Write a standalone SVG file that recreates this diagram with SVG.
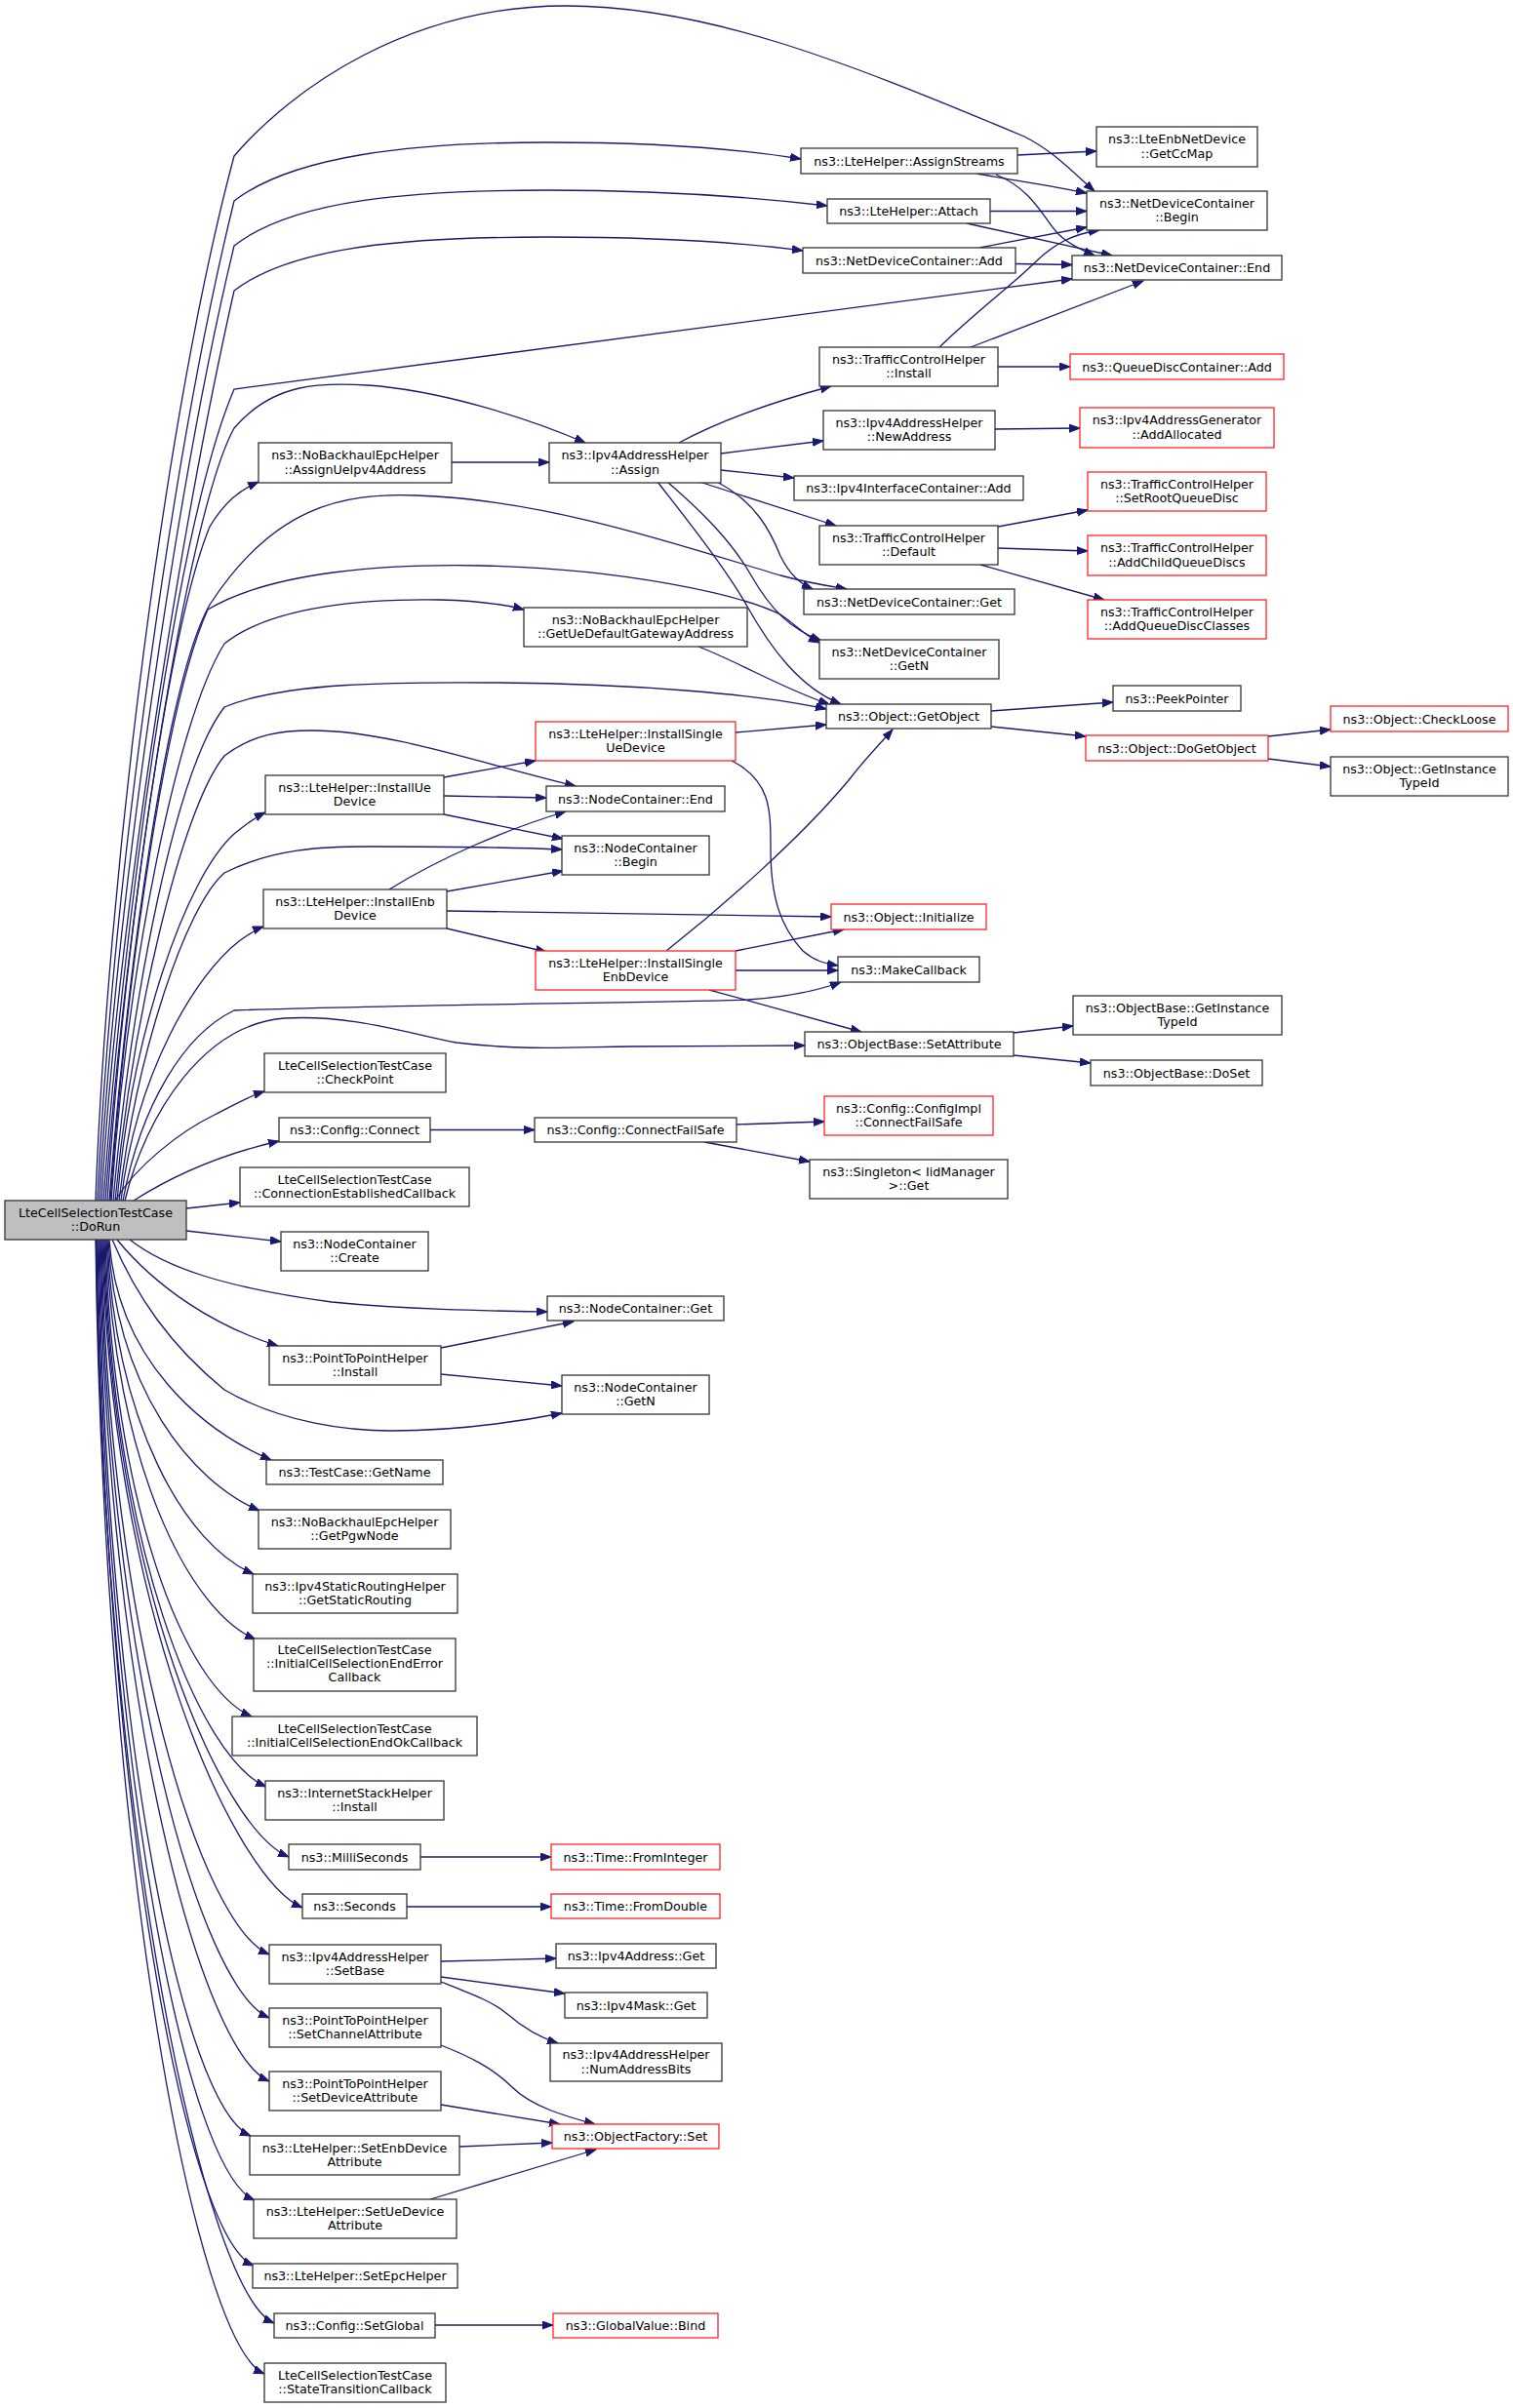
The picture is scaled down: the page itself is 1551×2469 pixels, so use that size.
<svg xmlns="http://www.w3.org/2000/svg" width="1551" height="2469" viewBox="0 0 1551 2469">
<defs>
<style>
.n rect{fill:#fff;stroke:#333;stroke-width:1.3}
.r rect{fill:#fff;stroke:#f22;stroke-width:1.3}
.g rect{fill:#bfbfbf;stroke:#333;stroke-width:1.3}
text{font-family:"DejaVu Sans",Verdana,sans-serif;font-size:12.7px;fill:#000;text-anchor:middle}
#edges path{fill:none;stroke:#191970;stroke-width:1.3;marker-end:url(#a)}
</style>
<marker id="a" markerWidth="12" markerHeight="9" refX="11" refY="4.25" orient="auto" markerUnits="userSpaceOnUse">
<path d="M0,0.25 L11,4.25 L0,8.25 z" fill="#191970" stroke="#191970" stroke-width="1"/>
</marker>
</defs>
<rect width="1551" height="2469" fill="#fff"/>
<g id="edges">
<path d="M98,1231 C110,900 170,420 240,160 C300,90 420,6 580,6 C720,6 860,60 1050,140 C1080,155 1100,177 1122,196"/>
<path d="M100,1231 C115,900 180,450 240,206 C300,160 420,146 561,146 C680,146 760,153 821,163"/>
<path d="M102,1231 C118,920 185,480 240,252 C300,205 420,195 561,195 C680,195 780,203 848,211"/>
<path d="M104,1231 C120,940 190,520 240,298 C300,252 420,243 561,243 C680,243 770,250 823,257"/>
<path d="M106,1231 C125,960 180,540 240,399 L1099,286"/>
<path d="M108,1231 C128,950 190,530 240,439 C280,392 330,392 377,395 C450,400 540,428 600,454"/>
<path d="M110,1231 C125,1000 170,650 215,540 C230,515 245,503 265,494"/>
<path d="M112,1231 C130,1000 170,700 215,620 C280,520 350,505 427,508 C560,512 700,560 800,590 C830,598 850,601 868,604"/>
<path d="M113,1231 C130,1000 170,720 213,625 C280,585 400,578 495,580 C640,583 760,610 800,630 C815,640 826,652 840,659"/>
<path d="M114,1231 C130,1000 180,740 230,660 C280,620 380,614 450,615 C490,616 515,619 537,625"/>
<path d="M116,1231 C135,1020 180,790 230,725 C290,700 400,699 512,700 C650,701 780,712 847,727"/>
<path d="M118,1231 C135,1050 185,830 230,775 C260,752 290,749 320,749 C400,749 500,785 590,806"/>
<path d="M120,1231 C135,1060 190,900 240,855 C252,845 262,838 272,833"/>
<path d="M122,1231 C140,1080 190,930 230,895 C280,870 330,868 378,868 C460,868 530,869 576,871"/>
<path d="M124,1231 C140,1100 200,1000 245,965 C255,958 262,953 270,950"/>
<path d="M126,1231 C145,1130 190,1060 240,1036 C400,1030 700,1028 767,1025 C810,1022 840,1015 862,1007"/>
<path d="M128,1231 C150,1140 210,1050 292,1044 C360,1040 420,1060 468,1069 C540,1078 600,1073 646,1073 L825,1072"/>
<path d="M118,1231 C140,1195 185,1160 220,1143 C240,1133 255,1124 271,1119"/>
<path d="M137,1231 C170,1210 220,1185 286,1170"/>
<path d="M191,1239 L246,1233"/>
<path d="M191,1262 L288,1273"/>
<path d="M133,1271 C170,1300 230,1320 340,1335 C420,1343 500,1344 561,1345"/>
<path d="M120,1271 C160,1320 220,1360 285,1380"/>
<path d="M115,1271 C140,1330 175,1380 230,1425 C290,1460 360,1467 401,1467 C470,1467 530,1458 576,1449"/>
<path d="M112,1271 C120,1395 208,1467 278,1497"/>
<path d="M111,1271 C119,1424 196,1519 266,1549"/>
<path d="M110,1271 C118,1460 190,1584 260,1614"/>
<path d="M109,1271 C117,1496 192,1651 262,1681"/>
<path d="M108,1271 C116,1540 188,1730 258,1760"/>
<path d="M107,1271 C115,1580 203,1802 273,1832"/>
<path d="M106,1271 C114,1619 226,1874 296,1904"/>
<path d="M105,1271 C113,1648 240,1926 310,1956"/>
<path d="M104,1271 C112,1674 206,1974 276,2004"/>
<path d="M103,1271 C111,1710 206,2039 276,2069"/>
<path d="M102,1271 C110,1746 206,2104 276,2134"/>
<path d="M101,1271 C109,1776 187,2160 257,2190"/>
<path d="M100,1271 C108,1813 191,2226 261,2256"/>
<path d="M99,1271 C107,1850 190,2293 260,2323"/>
<path d="M98.5,1271 C106,1882 211,2352 281,2382"/>
<path d="M98,1271 C106,1911 201,2404 271,2434"/>
<path d="M1043,159 L1124,155"/>
<path d="M1001,178 C1040,185 1080,191 1114,198"/>
<path d="M1021,179 C1060,195 1070,225 1085,240 C1095,250 1110,257 1122,262"/>
<path d="M1015,216.5 L1114,216.5"/>
<path d="M991,229 L1140,262"/>
<path d="M1004,254 L1114,233"/>
<path d="M1041,270.5 L1099,271.5"/>
<path d="M963,356 C1000,320 1040,290 1060,270 C1080,250 1100,240 1127,236"/>
<path d="M995,356 L1172,288"/>
<path d="M1023,376 L1097,376"/>
<path d="M696,454 C740,430 800,410 852,396"/>
<path d="M739,465 L844,452"/>
<path d="M739,482 L814,490"/>
<path d="M717,494 L857,539"/>
<path d="M735,494 C775,515 790,545 800,570 C810,590 820,598 833,604"/>
<path d="M684,494 C720,525 750,555 770,590 C790,625 810,645 842,657"/>
<path d="M674,494 C710,540 745,585 765,620 C790,665 820,705 862,722"/>
<path d="M463,474 L563,474"/>
<path d="M1020,440 L1107,439"/>
<path d="M1023,540 L1115,523"/>
<path d="M1023,562 L1115,565"/>
<path d="M1005,579 L1132,615"/>
<path d="M716,663 C760,680 800,705 850,722"/>
<path d="M1016,729 L1141,720"/>
<path d="M1016,745 L1113,755"/>
<path d="M1300,755 L1364,748"/>
<path d="M1300,778 L1364,786"/>
<path d="M754,751 L847,743"/>
<path d="M750,780 C790,800 790,830 790,870 C790,920 800,950 823,975 C835,985 845,988 859,990"/>
<path d="M455,797 L549,780"/>
<path d="M455,816 L560,818"/>
<path d="M455,835 L577,860"/>
<path d="M399,912 C450,880 520,850 580,832"/>
<path d="M458,914 L577,893"/>
<path d="M458,934 C600,936 750,938 852,940"/>
<path d="M458,952 L560,976"/>
<path d="M683,975 C740,930 820,860 870,800 C885,780 900,765 915,748"/>
<path d="M754,975 L865,953"/>
<path d="M754,995 L859,995"/>
<path d="M727,1015 L883,1058"/>
<path d="M1039,1059 L1100,1052"/>
<path d="M1039,1082 L1118,1090"/>
<path d="M441,1158.5 L548,1158.5"/>
<path d="M755,1153 L845,1150"/>
<path d="M722,1171 L830,1191"/>
<path d="M452,1382 L588,1355"/>
<path d="M452,1409 L576,1421"/>
<path d="M431,1904 L565,1904"/>
<path d="M417,1955 L565,1955"/>
<path d="M452,2011 L570,2008"/>
<path d="M452,2027 L579,2044"/>
<path d="M452,2032 C480,2043 505,2052 520,2065 C535,2078 550,2088 572,2095"/>
<path d="M452,2097 C480,2108 505,2120 525,2140 C545,2160 580,2170 610,2178"/>
<path d="M452,2158 L574,2178"/>
<path d="M471,2201 L566,2197"/>
<path d="M441,2255 L611,2204"/>
<path d="M446,2384 L567,2384"/>
</g>
<g id="n1" class="g"><rect x="5" y="1231" width="186" height="40"/><text><tspan x="98" y="1247.5">LteCellSelectionTestCase</tspan><tspan x="98" y="1262">::DoRun</tspan></text></g>
<g id="n2" class="n"><rect x="821" y="152" width="222" height="26"/><text x="932" y="169.5">ns3::LteHelper::AssignStreams</text></g>
<g id="n3" class="n"><rect x="1124" y="130" width="165" height="41"/><text><tspan x="1206.5" y="147">ns3::LteEnbNetDevice</tspan><tspan x="1206.5" y="161.5">::GetCcMap</tspan></text></g>
<g id="n4" class="n"><rect x="1114" y="196" width="185" height="40"/><text><tspan x="1206.5" y="212.5">ns3::NetDeviceContainer</tspan><tspan x="1206.5" y="227">::Begin</tspan></text></g>
<g id="n5" class="n"><rect x="848" y="204" width="167" height="25"/><text x="931.5" y="221">ns3::LteHelper::Attach</text></g>
<g id="n6" class="n"><rect x="823" y="254" width="218" height="26"/><text x="932" y="271.5">ns3::NetDeviceContainer::Add</text></g>
<g id="n7" class="n"><rect x="1099" y="262" width="215" height="25"/><text x="1206.5" y="279">ns3::NetDeviceContainer::End</text></g>
<g id="n8" class="n"><rect x="840" y="356" width="183" height="40"/><text><tspan x="931.5" y="372.5">ns3::TrafficControlHelper</tspan><tspan x="931.5" y="387">::Install</tspan></text></g>
<g id="n9" class="r"><rect x="1097" y="363" width="219" height="26"/><text x="1206.5" y="380.5">ns3::QueueDiscContainer::Add</text></g>
<g id="n10" class="n"><rect x="265" y="454" width="198" height="41"/><text><tspan x="364" y="471">ns3::NoBackhaulEpcHelper</tspan><tspan x="364" y="485.5">::AssignUeIpv4Address</tspan></text></g>
<g id="n11" class="n"><rect x="563" y="454" width="176" height="41"/><text><tspan x="651" y="471">ns3::Ipv4AddressHelper</tspan><tspan x="651" y="485.5">::Assign</tspan></text></g>
<g id="n12" class="n"><rect x="844" y="421" width="176" height="40"/><text><tspan x="932" y="437.5">ns3::Ipv4AddressHelper</tspan><tspan x="932" y="452">::NewAddress</tspan></text></g>
<g id="n13" class="r"><rect x="1107" y="418" width="199" height="41"/><text><tspan x="1206.5" y="435">ns3::Ipv4AddressGenerator</tspan><tspan x="1206.5" y="449.5">::AddAllocated</tspan></text></g>
<g id="n14" class="n"><rect x="814" y="488" width="235" height="25"/><text x="931.5" y="505">ns3::Ipv4InterfaceContainer::Add</text></g>
<g id="n15" class="r"><rect x="1115" y="484" width="183" height="40"/><text><tspan x="1206.5" y="500.5">ns3::TrafficControlHelper</tspan><tspan x="1206.5" y="515">::SetRootQueueDisc</tspan></text></g>
<g id="n16" class="n"><rect x="840" y="539" width="183" height="40"/><text><tspan x="931.5" y="555.5">ns3::TrafficControlHelper</tspan><tspan x="931.5" y="570">::Default</tspan></text></g>
<g id="n17" class="r"><rect x="1115" y="549" width="183" height="41"/><text><tspan x="1206.5" y="566">ns3::TrafficControlHelper</tspan><tspan x="1206.5" y="580.5">::AddChildQueueDiscs</tspan></text></g>
<g id="n18" class="n"><rect x="824" y="604" width="216" height="26"/><text x="932" y="621.5">ns3::NetDeviceContainer::Get</text></g>
<g id="n19" class="r"><rect x="1115" y="615" width="183" height="40"/><text><tspan x="1206.5" y="631.5">ns3::TrafficControlHelper</tspan><tspan x="1206.5" y="646">::AddQueueDiscClasses</tspan></text></g>
<g id="n20" class="n"><rect x="537" y="623" width="229" height="40"/><text><tspan x="651.5" y="639.5">ns3::NoBackhaulEpcHelper</tspan><tspan x="651.5" y="654">::GetUeDefaultGatewayAddress</tspan></text></g>
<g id="n21" class="n"><rect x="840" y="656" width="184" height="40"/><text><tspan x="932" y="672.5">ns3::NetDeviceContainer</tspan><tspan x="932" y="687">::GetN</tspan></text></g>
<g id="n22" class="n"><rect x="1141" y="703" width="131" height="26"/><text x="1206.5" y="720.5">ns3::PeekPointer</text></g>
<g id="n23" class="n"><rect x="847" y="722" width="169" height="25"/><text x="931.5" y="739">ns3::Object::GetObject</text></g>
<g id="n24" class="r"><rect x="1364" y="724" width="182" height="26"/><text x="1455" y="741.5">ns3::Object::CheckLoose</text></g>
<g id="n25" class="r"><rect x="549" y="740" width="205" height="40"/><text><tspan x="651.5" y="756.5">ns3::LteHelper::InstallSingle</tspan><tspan x="651.5" y="771">UeDevice</tspan></text></g>
<g id="n26" class="r"><rect x="1113" y="754" width="187" height="26"/><text x="1206.5" y="771.5">ns3::Object::DoGetObject</text></g>
<g id="n27" class="n"><rect x="1364" y="776" width="182" height="40"/><text><tspan x="1455" y="792.5">ns3::Object::GetInstance</tspan><tspan x="1455" y="807">TypeId</tspan></text></g>
<g id="n28" class="n"><rect x="272" y="795" width="183" height="40"/><text><tspan x="363.5" y="811.5">ns3::LteHelper::InstallUe</tspan><tspan x="363.5" y="826">Device</tspan></text></g>
<g id="n29" class="n"><rect x="560" y="806" width="183" height="26"/><text x="651.5" y="823.5">ns3::NodeContainer::End</text></g>
<g id="n30" class="n"><rect x="576" y="857" width="151" height="40"/><text><tspan x="651.5" y="873.5">ns3::NodeContainer</tspan><tspan x="651.5" y="888">::Begin</tspan></text></g>
<g id="n31" class="n"><rect x="270" y="912" width="188" height="40"/><text><tspan x="364" y="928.5">ns3::LteHelper::InstallEnb</tspan><tspan x="364" y="943">Device</tspan></text></g>
<g id="n32" class="r"><rect x="852" y="927" width="159" height="26"/><text x="931.5" y="944.5">ns3::Object::Initialize</text></g>
<g id="n33" class="r"><rect x="549" y="975" width="205" height="40"/><text><tspan x="651.5" y="991.5">ns3::LteHelper::InstallSingle</tspan><tspan x="651.5" y="1006">EnbDevice</tspan></text></g>
<g id="n34" class="n"><rect x="859" y="981" width="145" height="26"/><text x="931.5" y="998.5">ns3::MakeCallback</text></g>
<g id="n35" class="n"><rect x="1100" y="1021" width="214" height="40"/><text><tspan x="1207" y="1037.5">ns3::ObjectBase::GetInstance</tspan><tspan x="1207" y="1052">TypeId</tspan></text></g>
<g id="n36" class="n"><rect x="825" y="1058" width="214" height="25"/><text x="932" y="1075">ns3::ObjectBase::SetAttribute</text></g>
<g id="n37" class="n"><rect x="271" y="1080" width="186" height="40"/><text><tspan x="364" y="1096.5">LteCellSelectionTestCase</tspan><tspan x="364" y="1111">::CheckPoint</tspan></text></g>
<g id="n38" class="n"><rect x="1118" y="1087" width="176" height="26"/><text x="1206" y="1104.5">ns3::ObjectBase::DoSet</text></g>
<g id="n39" class="n"><rect x="286" y="1146" width="155" height="25"/><text x="363.5" y="1163">ns3::Config::Connect</text></g>
<g id="n40" class="n"><rect x="548" y="1146" width="207" height="25"/><text x="651.5" y="1163">ns3::Config::ConnectFailSafe</text></g>
<g id="n41" class="r"><rect x="845" y="1124" width="173" height="40"/><text><tspan x="931.5" y="1140.5">ns3::Config::ConfigImpl</tspan><tspan x="931.5" y="1155">::ConnectFailSafe</tspan></text></g>
<g id="n42" class="n"><rect x="830" y="1189" width="203" height="40"/><text><tspan x="931.5" y="1205.5">ns3::Singleton&lt; IidManager</tspan><tspan x="931.5" y="1220">&gt;::Get</tspan></text></g>
<g id="n43" class="n"><rect x="246" y="1197" width="235" height="40"/><text><tspan x="363.5" y="1213.5">LteCellSelectionTestCase</tspan><tspan x="363.5" y="1228">::ConnectionEstablishedCallback</tspan></text></g>
<g id="n44" class="n"><rect x="288" y="1263" width="151" height="40"/><text><tspan x="363.5" y="1279.5">ns3::NodeContainer</tspan><tspan x="363.5" y="1294">::Create</tspan></text></g>
<g id="n45" class="n"><rect x="561" y="1329" width="181" height="25"/><text x="651.5" y="1346">ns3::NodeContainer::Get</text></g>
<g id="n46" class="n"><rect x="276" y="1380" width="176" height="40"/><text><tspan x="364" y="1396.5">ns3::PointToPointHelper</tspan><tspan x="364" y="1411">::Install</tspan></text></g>
<g id="n47" class="n"><rect x="576" y="1410" width="151" height="40"/><text><tspan x="651.5" y="1426.5">ns3::NodeContainer</tspan><tspan x="651.5" y="1441">::GetN</tspan></text></g>
<g id="n48" class="n"><rect x="273" y="1497" width="181" height="25"/><text x="363.5" y="1514">ns3::TestCase::GetName</text></g>
<g id="n49" class="n"><rect x="265" y="1548" width="197" height="40"/><text><tspan x="363.5" y="1564.5">ns3::NoBackhaulEpcHelper</tspan><tspan x="363.5" y="1579">::GetPgwNode</tspan></text></g>
<g id="n50" class="n"><rect x="259" y="1614" width="210" height="40"/><text><tspan x="364" y="1630.5">ns3::Ipv4StaticRoutingHelper</tspan><tspan x="364" y="1645">::GetStaticRouting</tspan></text></g>
<g id="n51" class="n"><rect x="260" y="1680" width="207" height="54"/><text><tspan x="363.5" y="1695.6">LteCellSelectionTestCase</tspan><tspan x="363.5" y="1710">::InitialCellSelectionEndError</tspan><tspan x="363.5" y="1724.4">Callback</tspan></text></g>
<g id="n52" class="n"><rect x="238" y="1760" width="251" height="40"/><text><tspan x="363.5" y="1776.5">LteCellSelectionTestCase</tspan><tspan x="363.5" y="1791">::InitialCellSelectionEndOkCallback</tspan></text></g>
<g id="n53" class="n"><rect x="272" y="1826" width="183" height="40"/><text><tspan x="363.5" y="1842.5">ns3::InternetStackHelper</tspan><tspan x="363.5" y="1857">::Install</tspan></text></g>
<g id="n54" class="n"><rect x="296" y="1891" width="135" height="26"/><text x="363.5" y="1908.5">ns3::MilliSeconds</text></g>
<g id="n55" class="r"><rect x="565" y="1891" width="173" height="26"/><text x="651.5" y="1908.5">ns3::Time::FromInteger</text></g>
<g id="n56" class="n"><rect x="310" y="1942" width="107" height="25"/><text x="363.5" y="1959">ns3::Seconds</text></g>
<g id="n57" class="r"><rect x="565" y="1942" width="173" height="25"/><text x="651.5" y="1959">ns3::Time::FromDouble</text></g>
<g id="n58" class="n"><rect x="276" y="1994" width="176" height="40"/><text><tspan x="364" y="2010.5">ns3::Ipv4AddressHelper</tspan><tspan x="364" y="2025">::SetBase</tspan></text></g>
<g id="n59" class="n"><rect x="570" y="1993" width="164" height="25"/><text x="652" y="2010">ns3::Ipv4Address::Get</text></g>
<g id="n60" class="n"><rect x="579" y="2043" width="146" height="26"/><text x="652" y="2060.5">ns3::Ipv4Mask::Get</text></g>
<g id="n61" class="n"><rect x="564" y="2095" width="176" height="39"/><text><tspan x="652" y="2111">ns3::Ipv4AddressHelper</tspan><tspan x="652" y="2125.5">::NumAddressBits</tspan></text></g>
<g id="n62" class="n"><rect x="276" y="2059" width="176" height="40"/><text><tspan x="364" y="2075.5">ns3::PointToPointHelper</tspan><tspan x="364" y="2090">::SetChannelAttribute</tspan></text></g>
<g id="n63" class="n"><rect x="276" y="2124" width="176" height="40"/><text><tspan x="364" y="2140.5">ns3::PointToPointHelper</tspan><tspan x="364" y="2155">::SetDeviceAttribute</tspan></text></g>
<g id="n64" class="r"><rect x="566" y="2178" width="171" height="25"/><text x="651.5" y="2195">ns3::ObjectFactory::Set</text></g>
<g id="n65" class="n"><rect x="256" y="2190" width="215" height="40"/><text><tspan x="363.5" y="2206.5">ns3::LteHelper::SetEnbDevice</tspan><tspan x="363.5" y="2221">Attribute</tspan></text></g>
<g id="n66" class="n"><rect x="260" y="2255" width="208" height="40"/><text><tspan x="364" y="2271.5">ns3::LteHelper::SetUeDevice</tspan><tspan x="364" y="2286">Attribute</tspan></text></g>
<g id="n67" class="n"><rect x="259" y="2321" width="210" height="25"/><text x="364" y="2338">ns3::LteHelper::SetEpcHelper</text></g>
<g id="n68" class="n"><rect x="281" y="2372" width="165" height="25"/><text x="363.5" y="2389">ns3::Config::SetGlobal</text></g>
<g id="n69" class="r"><rect x="567" y="2372" width="169" height="25"/><text x="651.5" y="2389">ns3::GlobalValue::Bind</text></g>
<g id="n70" class="n"><rect x="271" y="2423" width="186" height="40"/><text><tspan x="364" y="2439.5">LteCellSelectionTestCase</tspan><tspan x="364" y="2454">::StateTransitionCallback</tspan></text></g>
</svg>
